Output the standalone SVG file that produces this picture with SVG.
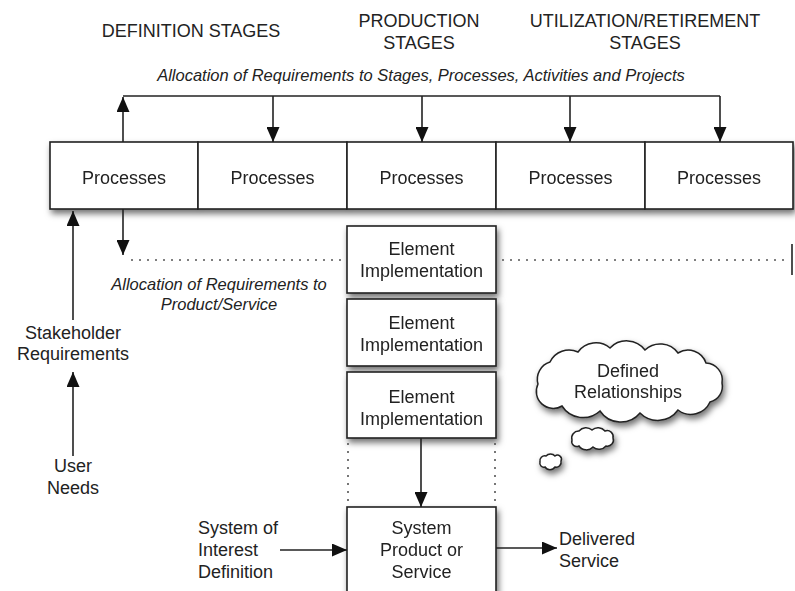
<svg xmlns="http://www.w3.org/2000/svg" width="795" height="591" viewBox="0 0 795 591">
<style>
text{font-family:"Liberation Sans",Arial,sans-serif;fill:#222;}
.h{font-size:18px;text-anchor:middle;}
.b{font-size:18px;text-anchor:middle;}
.l{font-size:18px;}
.i{font-size:16.5px;font-style:italic;text-anchor:middle;}
.box{fill:#fff;stroke:#222;stroke-width:1.6;}
.ln{fill:none;stroke:#222;stroke-width:1.6;}
.dot{fill:none;stroke:#555;stroke-width:1.6;stroke-dasharray:2 6;}
.cloud{fill:#fff;stroke:#222;stroke-width:1.5;}
</style>
<defs>
<filter id="sh" x="-10%" y="-20%" width="130%" height="150%">
<feDropShadow dx="2" dy="4" stdDeviation="3" flood-color="#000" flood-opacity="0.55"/>
</filter>
<marker id="ar" viewBox="0 0 15 13" refX="15" refY="6.5" markerWidth="15" markerHeight="13" markerUnits="userSpaceOnUse" orient="auto">
<path d="M0,0 L15,6.5 L0,13 z" fill="#111"/>
</marker>
</defs>
<rect width="795" height="591" fill="#fff"/>

<g id="headers">
<text class="h" x="191" y="37">DEFINITION STAGES</text>
<text class="h" x="419" y="27">PRODUCTION</text>
<text class="h" x="419" y="49">STAGES</text>
<text class="h" x="645" y="27">UTILIZATION/RETIREMENT</text>
<text class="h" x="645" y="49">STAGES</text>
<text class="i" x="421" y="81">Allocation of  Requirements to Stages, Processes, Activities and Projects</text>
</g>

<g filter="url(#sh)">
<g id="proc1"><rect class="box" x="50" y="142" width="148" height="67"/><text class="b" x="124" y="184">Processes</text></g>
<g id="proc2"><rect class="box" x="198" y="142" width="149" height="67"/><text class="b" x="272.5" y="184">Processes</text></g>
<g id="proc3"><rect class="box" x="347" y="142" width="149" height="67"/><text class="b" x="421.5" y="184">Processes</text></g>
<g id="proc4"><rect class="box" x="496" y="142" width="149" height="67"/><text class="b" x="570.5" y="184">Processes</text></g>
<g id="proc5"><rect class="box" x="645" y="142" width="148" height="67"/><text class="b" x="719" y="184">Processes</text></g>
</g>

<g id="elem1" filter="url(#sh)"><rect class="box" x="347" y="226" width="149" height="67"/><text class="b" x="421.5" y="255">Element</text><text class="b" x="421.5" y="277">Implementation</text></g>
<g id="elem2" filter="url(#sh)"><rect class="box" x="347" y="299" width="149" height="67"/><text class="b" x="421.5" y="329">Element</text><text class="b" x="421.5" y="351">Implementation</text></g>
<g id="elem3" filter="url(#sh)"><rect class="box" x="347" y="372" width="149" height="66"/><text class="b" x="421.5" y="403">Element</text><text class="b" x="421.5" y="425">Implementation</text></g>
<g id="system" filter="url(#sh)"><rect class="box" x="347" y="507" width="149" height="100"/><text class="b" x="421.5" y="534">System</text><text class="b" x="421.5" y="556">Product or</text><text class="b" x="421.5" y="578">Service</text></g>

<g id="cloud" filter="url(#sh)">
<path class="cloud" d="M538,384 A18,18 0 0 1 550,362 A21,21 0 0 1 578,352 A22,22 0 0 1 610,348 A23,23 0 0 1 645,350 A22,22 0 0 1 678,353 A19,19 0 0 1 706,363 A17,17 0 0 1 722,383 A16,16 0 0 1 710,402 A21,21 0 0 1 678,410 A25,25 0 0 1 640,413 A25,25 0 0 1 600,411 A25,25 0 0 1 562,406 A17,17 0 0 1 538,384 z"/>
<text class="b" x="628" y="377">Defined</text>
<text class="b" x="628" y="398">Relationships</text>
<path class="cloud" d="M572,440 A7,7 0 0 1 579,431 A9,9 0 0 1 592,430 A9,9 0 0 1 605,431 A6,6 0 0 1 613,438 A6,6 0 0 1 606,446 A9,9 0 0 1 593,447 A9,9 0 0 1 579,446 A5,5 0 0 1 572,440 z"/>
<path class="cloud" d="M540,462 A5,5 0 0 1 546,456 A6,6 0 0 1 555,456 A4,4 0 0 1 561,461 A5,5 0 0 1 555,467 A6,6 0 0 1 545,467 A4,4 0 0 1 540,462 z"/>
</g>

<g id="labels">
<text class="i" x="219" y="290">Allocation of  Requirements to</text>
<text class="i" x="219" y="310">Product/Service</text>
<text class="b" x="73" y="339">Stakeholder</text>
<text class="b" x="73" y="360">Requirements</text>
<text class="b" x="73" y="472">User</text>
<text class="b" x="73" y="494">Needs</text>
<text class="l" x="198" y="534">System of</text>
<text class="l" x="198" y="556">Interest</text>
<text class="l" x="198" y="578">Definition</text>
<text class="l" x="559" y="545">Delivered</text>
<text class="l" x="559" y="567">Service</text>
</g>

<g id="connectors">
<polyline class="ln" points="123,96 720,96"/>
<line class="ln" x1="123" y1="142" x2="123" y2="97" marker-end="url(#ar)"/>
<line class="ln" x1="273" y1="96" x2="273" y2="142" marker-end="url(#ar)"/>
<line class="ln" x1="422" y1="96" x2="422" y2="142" marker-end="url(#ar)"/>
<line class="ln" x1="570" y1="96" x2="570" y2="142" marker-end="url(#ar)"/>
<line class="ln" x1="720" y1="96" x2="720" y2="142" marker-end="url(#ar)"/>
<line class="ln" x1="123" y1="209" x2="123" y2="255" marker-end="url(#ar)"/>
<line class="dot" x1="131" y1="260" x2="345" y2="260"/>
<line class="dot" x1="502" y1="260" x2="789" y2="260"/>
<line class="ln" x1="792" y1="244" x2="792" y2="275" stroke-width="2"/>
<line class="ln" x1="73" y1="320" x2="73" y2="211" marker-end="url(#ar)"/>
<line class="ln" x1="73" y1="456" x2="73" y2="372" marker-end="url(#ar)"/>
<line class="ln" x1="421" y1="438" x2="421" y2="507" marker-end="url(#ar)"/>
<line class="dot" x1="348" y1="443" x2="348" y2="505"/>
<line class="dot" x1="495" y1="443" x2="495" y2="505"/>
<line class="ln" x1="280" y1="550" x2="347" y2="550" marker-end="url(#ar)"/>
<line class="ln" x1="496" y1="548" x2="557" y2="548" marker-end="url(#ar)"/>
</g>
</svg>
